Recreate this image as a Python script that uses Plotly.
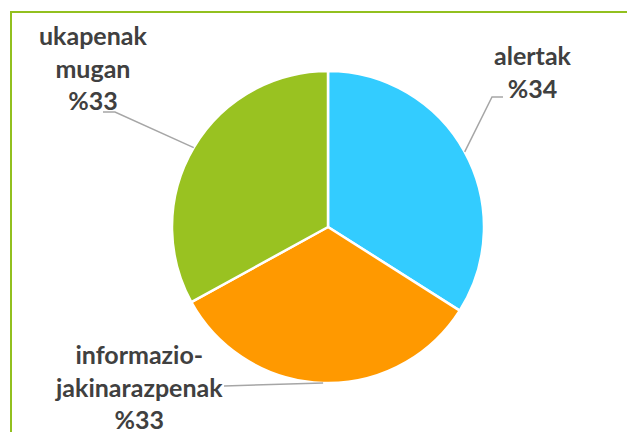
import math
import plotly.graph_objects as go

# pie data
labels = ['alertak', 'informazio-<br>jakinarazpenak', 'ukapenak<br>mugan']
values = [34, 33, 33]
colors = ['#33CCFF', '#FF9900', '#99C221']

OFF = 8  # page body margin pushes the figure by 8px
W, H = 635 - OFF, 432 - OFF
# pie placement in screen pixels
cx, cy, r = 328, 227, 156

# label anchors (screen px): text centre, end of leader line, elbow corner
label_pos = [
    dict(tx=533, ty=72, ex=503, ey=97, kx=492, ky=97),
    dict(tx=139, ty=386, ex=224, ey=386, kx=224, ky=386),
    dict(tx=93, ty=68, ex=103, ey=112, kx=115, ky=112),
]

def px(x):
    return (x - OFF) / W

def py(y):
    return 1 - (y - OFF) / H

fig = go.Figure()
fig.add_trace(go.Pie(
    labels=labels,
    values=values,
    sort=False,
    direction='clockwise',
    rotation=0,
    textinfo='none',
    hoverinfo='label+percent',
    marker=dict(colors=colors, line=dict(color='white', width=2.5)),
    domain=dict(x=[px(cx - r), px(cx + r)], y=[py(cy + r), py(cy - r)]),
    showlegend=False,
))

shapes = [
    # green frame around the chart (right and bottom sides fall outside the view)
    dict(type='rect', xref='paper', yref='paper',
         x0=px(11), x1=px(W + 40), y0=py(H + 40), y1=py(12),
         line=dict(color='#92C01F', width=2), fillcolor='rgba(0,0,0,0)'),
]
annotations = []

total = sum(values)
cum = 0
for lab, v, pos in zip(labels, values, label_pos):
    mid = (cum + v / 2) / total * 2 * math.pi
    cum += v
    sx = cx + r * math.sin(mid)
    sy = cy - r * math.cos(mid)
    shapes.append(dict(
        type='path', xref='paper', yref='paper',
        path=f'M {px(sx)},{py(sy)} L {px(pos["kx"])},{py(pos["ky"])} L {px(pos["ex"])},{py(pos["ey"])}',
        line=dict(color='#A6A6A6', width=1.5),
    ))
    annotations.append(dict(
        x=px(pos['tx']), y=py(pos['ty']), xref='paper', yref='paper',
        text=f'<b>{lab}<br>%{v}</b>', showarrow=False, align='center',
        xanchor='center', yanchor='middle',
        font=dict(family='Lato', size=25, color='#404040'),
    ))

fig.update_layout(
    width=W, height=H,
    margin=dict(l=0, r=0, t=0, b=0),
    paper_bgcolor='white',
    plot_bgcolor='white',
    shapes=shapes,
    annotations=annotations,
)

fig.write_html("out.html")
